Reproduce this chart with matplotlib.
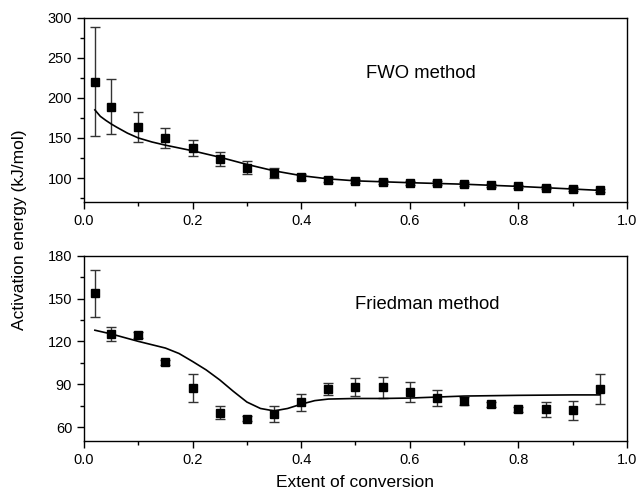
import matplotlib
matplotlib.use("Agg")
import matplotlib.pyplot as plt
from matplotlib.ticker import MultipleLocator

plt.rcParams['font.family'] = ['Liberation Sans', 'DejaVu Sans']

# extent of conversion
conv = [0.02, 0.05, 0.1, 0.15, 0.2, 0.25, 0.3, 0.35, 0.4, 0.45, 0.5,
        0.55, 0.6, 0.65, 0.7, 0.75, 0.8, 0.85, 0.9, 0.95]

# FWO method
fwo_E = [220, 189, 164, 150, 137, 124, 113, 106, 101, 98, 96.3,
         95, 94.2, 93.3, 92.5, 90.8, 89.6, 87.9, 86.3, 84.6]
fwo_err = [68, 34, 19, 12, 10, 9, 8, 6, 4, 3, 3,
           2.5, 2.5, 2.5, 2, 2, 2, 2, 2, 2]
fwo_fit_x = [0.02, 0.03, 0.04, 0.05, 0.06, 0.08, 0.1, 0.125, 0.15, 0.175,
             0.2, 0.25, 0.3, 0.35, 0.4, 0.45, 0.5, 0.6, 0.7, 0.8, 0.9, 0.95]
fwo_fit_E = [185, 177, 172, 167.5, 163.5, 156, 150, 145, 141, 137.5,
             134, 126, 117, 109, 103, 99, 96.5, 94.2, 92.3, 89.6, 86.3, 84.6]

# Friedman method
fr_E = [153.7, 125, 124.5, 105.2, 87.1, 69.9, 65.9, 69, 77.4, 86.6, 88,
        87.8, 84.3, 80.3, 78.2, 75.8, 72.3, 72.3, 71.6, 86.4]
fr_err = [16.5, 5, 2, 1.5, 9.7, 4.5, 2, 5.7, 6, 4.4, 6.6,
          7.5, 6.9, 5.6, 3, 1.5, 1.5, 5.4, 6.7, 10.5]
fr_fit_x = [0.02, 0.05, 0.1, 0.15, 0.175, 0.2, 0.225, 0.25, 0.275, 0.3,
            0.325, 0.35, 0.375, 0.4, 0.425, 0.45, 0.5, 0.55, 0.6, 0.7,
            0.8, 0.9, 0.95, 0.95]
fr_fit_E = [127.8, 125.2, 120, 115.3, 111.5, 105.9, 100, 93, 85, 77.5,
            73, 71.3, 73, 76, 78.5, 79.6, 80, 80, 80.3, 81.7,
            82.2, 82.5, 82.5, 86.4]

fig = plt.figure(figsize=(6.38, 4.99), dpi=100)
ax1 = fig.add_axes([0.1317, 0.595, 0.851, 0.3695])
ax2 = fig.add_axes([0.1317, 0.1156, 0.851, 0.372])


def style(ax, ylo, yhi, ymaj, ymin):
    ax.set_xlim(0, 1.0)
    ax.set_ylim(ylo, yhi)
    ax.xaxis.set_major_locator(MultipleLocator(0.2))
    ax.xaxis.set_minor_locator(MultipleLocator(0.1))
    ax.yaxis.set_major_locator(MultipleLocator(ymaj))
    ax.yaxis.set_minor_locator(MultipleLocator(ymin))
    ax.tick_params(which='major', direction='out', length=5, width=1,
                   labelsize=10.5, top=False, right=False)
    ax.tick_params(which='minor', direction='out', length=3, width=1,
                   top=False, right=False)
    for s in ax.spines.values():
        s.set_linewidth(1)


ax1.errorbar(conv, fwo_E, yerr=fwo_err, fmt='s', color='black', ms=6,
             ecolor='#333333', elinewidth=1, capsize=3.5, capthick=1)
ax1.plot(fwo_fit_x, fwo_fit_E, color='black', lw=1.2)
style(ax1, 70, 300, 50, 25)
ax1.set_yticks([100, 150, 200, 250, 300])
ax1.text(0.52, 231, 'FWO method', fontsize=13.3, va='center')

ax2.errorbar(conv, fr_E, yerr=fr_err, fmt='s', color='black', ms=6,
             ecolor='#333333', elinewidth=1, capsize=3.5, capthick=1)
ax2.plot(fr_fit_x, fr_fit_E, color='black', lw=1.2)
style(ax2, 50, 180, 30, 15)
ax2.set_yticks([60, 90, 120, 150, 180])
ax2.text(0.5, 146, 'Friedman method', fontsize=13.3, va='center')

ax2.set_xlabel('Extent of conversion', fontsize=12.5, labelpad=6)
fig.text(0.03, 0.54, 'Activation energy (kJ/mol)', rotation=90,
         fontsize=12.5, ha='center', va='center')

fig.savefig('out.png', dpi=100)
